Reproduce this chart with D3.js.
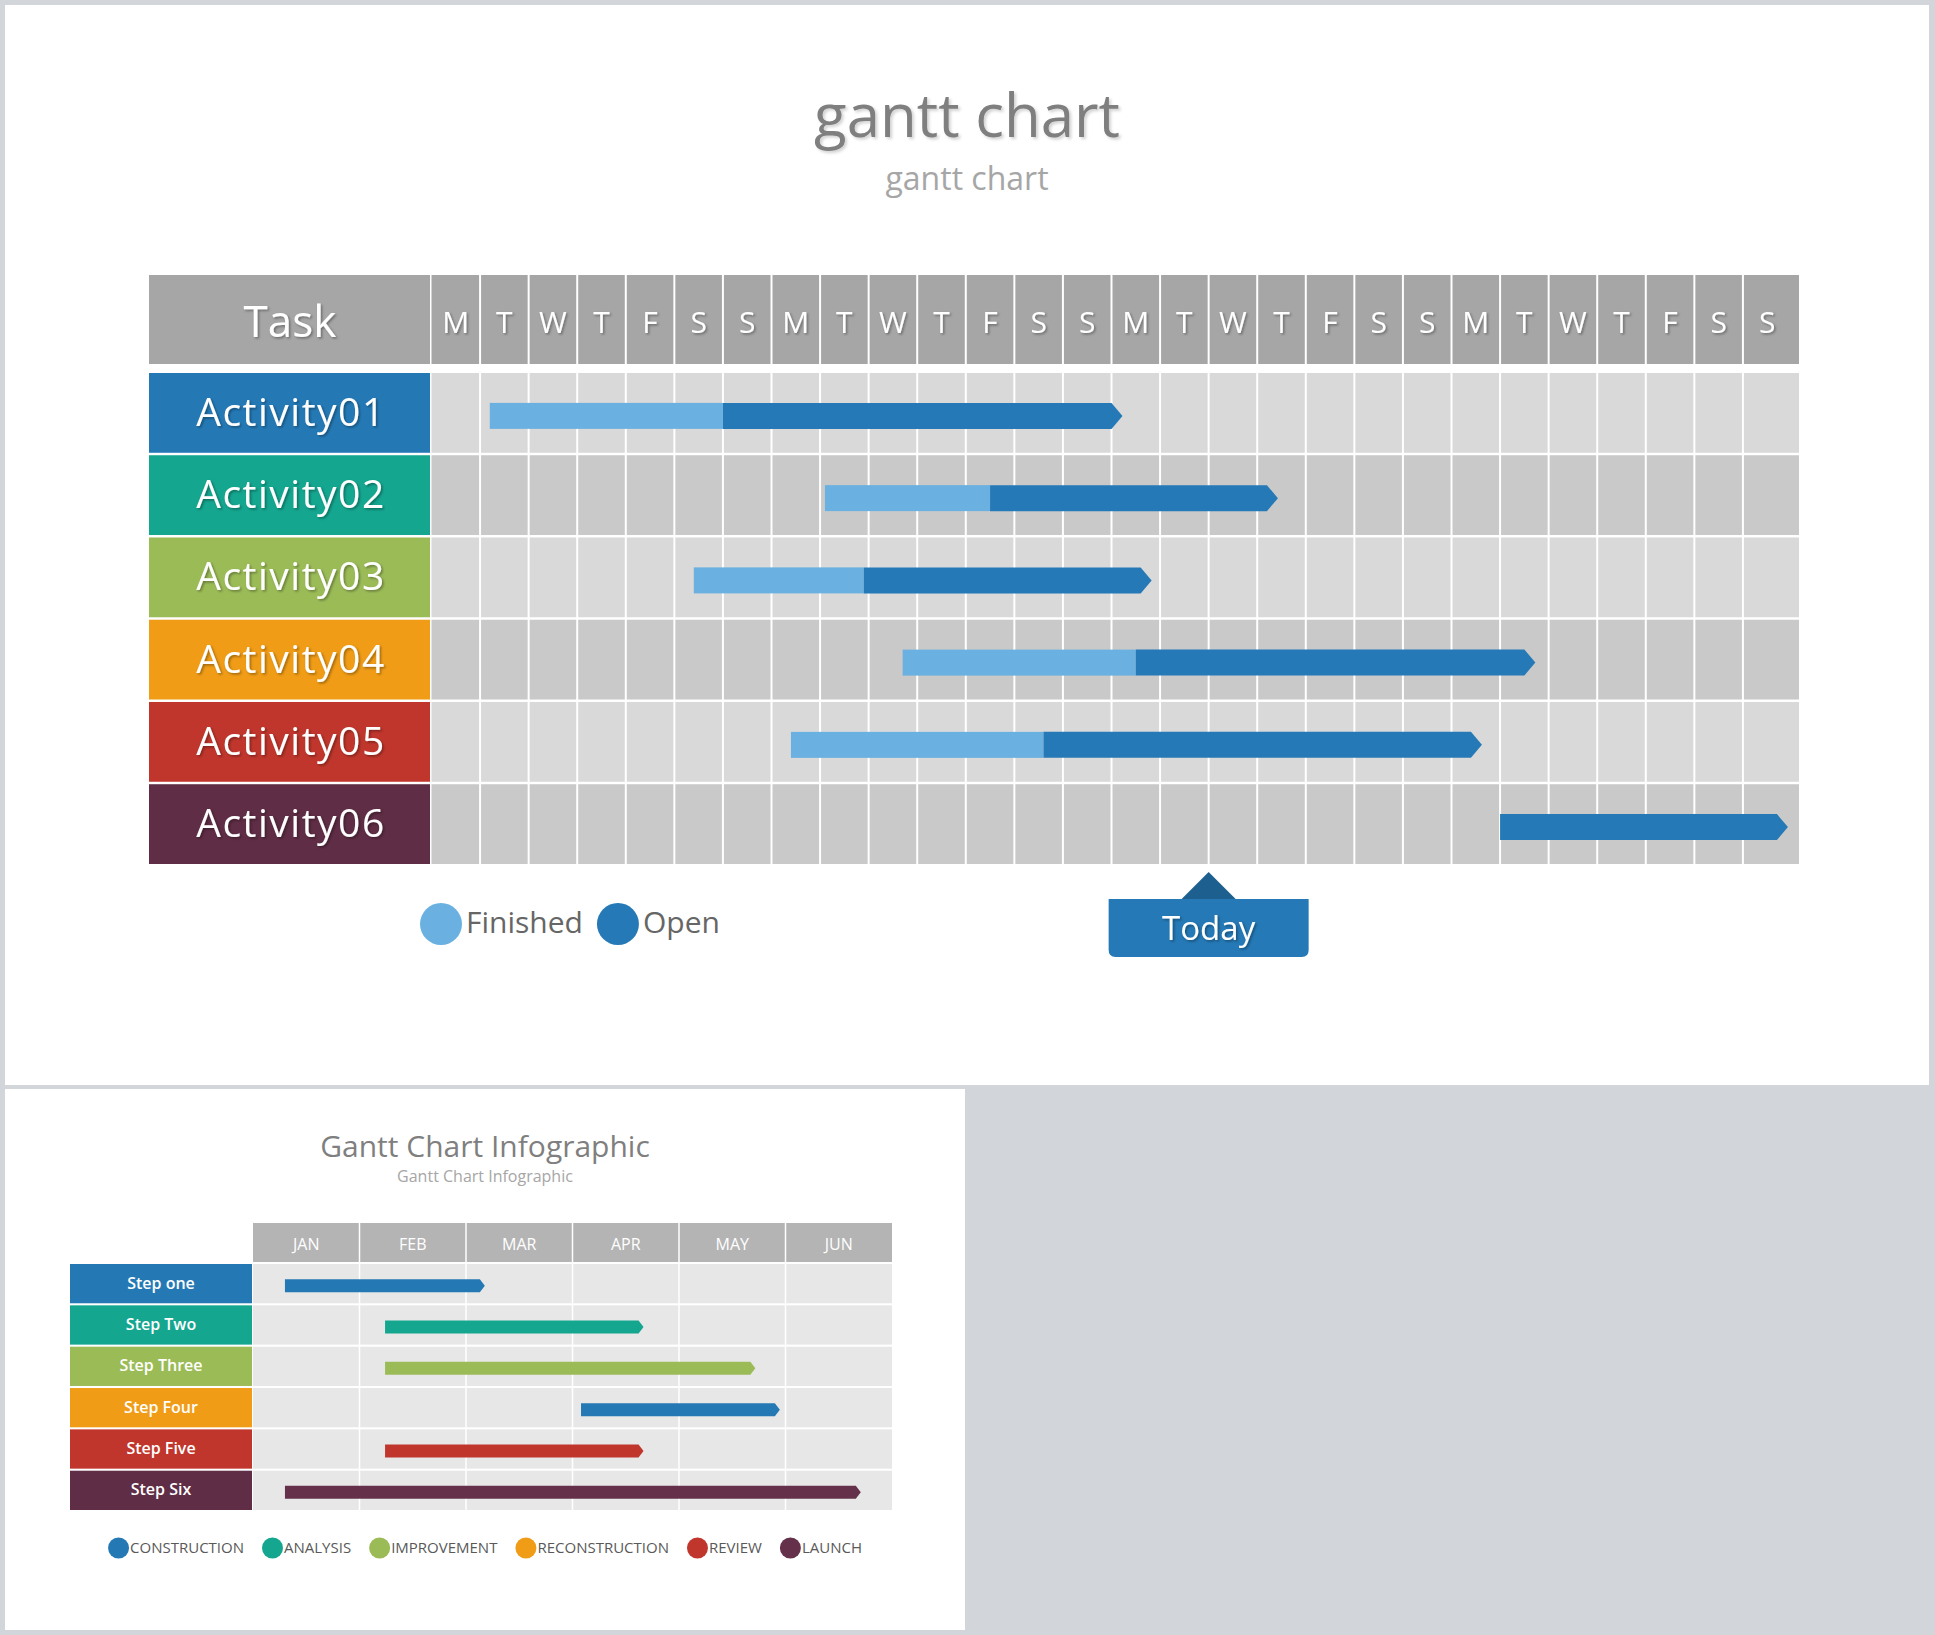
<!DOCTYPE html>
<html><head><meta charset="utf-8">
<script src="https://cdn.jsdelivr.net/npm/d3@7"></script>
<style>html,body{margin:0;padding:0;background:#d2d5da;}svg{display:block}</style>
</head><body>
<svg id="c" width="1935" height="1635"></svg>
<script>
// ---------- data: chart 1 ----------
const days = ["M","T","W","T","F","S","S","M","T","W","T","F","S","S","M","T","W","T","F","S","S","M","T","W","T","F","S","S"];
const activities = ["Activity01","Activity02","Activity03","Activity04","Activity05","Activity06"];
const finishedStart = [1.2, 8.1, 5.4, 9.7, 7.4, 22.0];
const openStart     = [6.0, 11.5, 8.9, 14.5, 12.6, 22.0];
const openEnd       = [14.0, 17.2, 14.6, 22.5, 21.4, 27.7];
const today = 16;
const statusNames = ["Finished", "Open"];

// ---------- data: chart 2 ----------
const months = ["JAN","FEB","MAR","APR","MAY","JUN"];
const steps = ["Step one","Step Two","Step Three","Step Four","Step Five","Step Six"];
const stepStart = [0.30, 1.24, 1.24, 3.08, 1.24, 0.30];
const stepEnd   = [2.13, 3.62, 4.67, 4.90, 3.62, 5.66];
const phases = ["CONSTRUCTION","ANALYSIS","IMPROVEMENT","RECONSTRUCTION","REVIEW","LAUNCH"];
const stepPhase = [0, 1, 2, 0, 4, 5];

// ---------- styles ----------
const labelColors = ["#2479b5","#14a68f","#9bbb57","#f09c16","#c0362c","#5f2d45"];
const phaseColors = ["#2479b5","#14a68f","#9bbb57","#f09c16","#c0362c","#64304a"];
const statusColors = ["#6ab1e1","#2479b6"];
const FONT = "'Open Sans', 'Noto Sans', sans-serif";

const svg = d3.select("#c");
const defs = svg.append("defs");
const f = defs.append("filter").attr("id","sh").attr("x","-10%").attr("y","-20%").attr("width","130%").attr("height","150%");
f.append("feDropShadow").attr("dx",1.5).attr("dy",1.5).attr("stdDeviation",1).attr("flood-color","#000").attr("flood-opacity",0.35);
const f2 = defs.append("filter").attr("id","tsh").attr("x","-10%").attr("y","-20%").attr("width","130%").attr("height","150%");
f2.append("feDropShadow").attr("dx",2).attr("dy",2).attr("stdDeviation",1.5).attr("flood-color","#000").attr("flood-opacity",0.18);

// panels
svg.append("rect").attr("x",5).attr("y",5).attr("width",1924).attr("height",1080).attr("fill","#fff");
svg.append("rect").attr("x",5).attr("y",1089).attr("width",960).attr("height",541).attr("fill","#fff");

// ================= chart 1 =================
const g1 = svg.append("g");
g1.append("text").attr("x",967).attr("y",137).attr("text-anchor","middle")
  .attr("font-family",FONT).attr("font-size",60).attr("fill","#7f7f7f").attr("filter","url(#tsh)").text("gantt chart");
g1.append("text").attr("x",967).attr("y",190).attr("text-anchor","middle")
  .attr("font-family",FONT).attr("font-size",32).attr("fill","#a6a6a6").text("gantt chart");

const gridRight = 1799;
const x1 = d3.scaleLinear().domain([0, days.length]).range([431.5, 1791.5]);
const dayBand = d3.scaleBand().domain(d3.range(days.length)).range([431.5, 1791.5]);
const y1 = d3.scaleBand().domain(activities).range([373, 864]).paddingInner(0.03);
const hTop = 275, hBot = 364;

// header
g1.append("rect").attr("x",149).attr("y",hTop).attr("width",281).attr("height",hBot-hTop).attr("fill","#a6a6a6");
g1.append("rect").attr("x",x1(0)).attr("y",hTop).attr("width",gridRight-x1(0)).attr("height",hBot-hTop).attr("fill","#a6a6a6");
g1.append("text").attr("x",290).attr("y",337).attr("text-anchor","middle").attr("font-family",FONT)
  .attr("font-size",44).attr("fill","#fff").attr("filter","url(#sh)").text("Task");

// rows
activities.forEach((a,i)=>{
  g1.append("rect").attr("x",x1(0)).attr("y",y1(a)).attr("width",gridRight-x1(0)).attr("height",y1.bandwidth())
    .attr("fill", i%2===0 ? "#d9d9d9" : "#c9c9c9");
  g1.append("rect").attr("x",149).attr("y",y1(a)).attr("width",281).attr("height",y1.bandwidth()).attr("fill",labelColors[i]);
  g1.append("text").attr("x",291).attr("y",y1(a)+y1.bandwidth()/2+13).attr("text-anchor","middle")
    .attr("font-family",FONT).attr("font-size",39).attr("letter-spacing",1.5).attr("fill","#fff").attr("filter","url(#sh)").text(a);
});
// vertical white separators
d3.range(1, days.length).forEach(k=>{
  g1.append("line").attr("x1",x1(k)).attr("x2",x1(k)).attr("y1",hTop).attr("y2",hBot).attr("stroke","#fff").attr("stroke-width",2);
  g1.append("line").attr("x1",x1(k)).attr("x2",x1(k)).attr("y1",y1.range()[0]).attr("y2",y1.range()[1]).attr("stroke","#fff").attr("stroke-width",2);
});
// day labels via axis
const dayAxis = d3.axisTop(dayBand).tickSize(0).tickFormat(i=>days[i]);
const ax = g1.append("g").attr("transform",`translate(0,${333})`).call(dayAxis);
ax.select(".domain").remove();
ax.selectAll("text").attr("font-family",FONT).attr("font-size",30).attr("fill","#fff").attr("dy",0).attr("y",0)
  .attr("filter","url(#sh)");

// bars
const barH = 26, tip = 11;
activities.forEach((a,i)=>{
  const cy = y1(a) + y1.bandwidth()/2 + 3;
  if (openStart[i] > finishedStart[i]) {
    g1.append("rect").attr("x",x1(finishedStart[i])).attr("y",cy-barH/2)
      .attr("width",x1(openStart[i])-x1(finishedStart[i])).attr("height",barH).attr("fill",statusColors[0]);
  }
  const xs = x1(openStart[i]), xe = x1(openEnd[i]);
  g1.append("path").attr("d",`M${xs},${cy-barH/2}H${xe}L${xe+tip},${cy}L${xe},${cy+barH/2}H${xs}Z`).attr("fill",statusColors[1]);
});

// today callout
const tx = x1(today);
g1.append("path").attr("d",`M${tx},872L${tx+27},899L${tx-27},899Z`).attr("fill","#1d5f8f");
const bx0 = tx-100, bx1 = tx+100, by0 = 899, by1 = 957, r = 7;
g1.append("path").attr("d",`M${bx0},${by0}H${bx1}V${by1-r}Q${bx1},${by1} ${bx1-r},${by1}H${bx0+r}Q${bx0},${by1} ${bx0},${by1-r}Z`)
  .attr("fill","#2479b6");
g1.append("text").attr("x",tx).attr("y",940).attr("text-anchor","middle").attr("font-family",FONT)
  .attr("font-size",33).attr("fill","#fff").attr("filter","url(#sh)").text("Today");

// status legend
let lx = 420;
statusNames.forEach((s,i)=>{
  g1.append("circle").attr("cx",lx+21).attr("cy",924).attr("r",21).attr("fill",statusColors[i]);
  const t = g1.append("text").attr("x",lx+46).attr("y",933).attr("font-family",FONT).attr("font-size",30)
    .attr("fill","#666").text(s);
  lx = lx + 46 + t.node().getComputedTextLength() + 14;
});

// ================= chart 2 =================
const g2 = svg.append("g");
g2.append("text").attr("x",485).attr("y",1157).attr("text-anchor","middle").attr("font-family",FONT)
  .attr("font-size",30).attr("fill","#7f7f7f").text("Gantt Chart Infographic");
g2.append("text").attr("x",485).attr("y",1182).attr("text-anchor","middle").attr("font-family",FONT)
  .attr("font-size",16).attr("fill","#a6a6a6").text("Gantt Chart Infographic");

const x2 = d3.scaleLinear().domain([0, months.length]).range([253, 892]);
const monthBand = d3.scaleBand().domain(months).range([253, 892]);
const y2 = d3.scaleBand().domain(steps).range([1264, 1510]).paddingInner(0.05);

g2.append("rect").attr("x",x2(0)).attr("y",1223).attr("width",x2(6)-x2(0)).attr("height",39).attr("fill","#b4b4b4");
steps.forEach((s,i)=>{
  g2.append("rect").attr("x",x2(0)).attr("y",y2(s)).attr("width",x2(6)-x2(0)).attr("height",y2.bandwidth()).attr("fill","#e7e7e7");
  g2.append("rect").attr("x",70).attr("y",y2(s)).attr("width",182).attr("height",y2.bandwidth()).attr("fill",labelColors[i]);
  g2.append("text").attr("x",161).attr("y",y2(s)+y2.bandwidth()/2+5).attr("text-anchor","middle").attr("font-family",FONT)
    .attr("font-size",16).attr("font-weight",600).attr("fill","#fff").text(s);
});
d3.range(1, months.length).forEach(k=>{
  g2.append("line").attr("x1",x2(k)).attr("x2",x2(k)).attr("y1",1223).attr("y2",1262).attr("stroke","#fff").attr("stroke-width",1.5);
  g2.append("line").attr("x1",x2(k)).attr("x2",x2(k)).attr("y1",y2.range()[0]).attr("y2",y2.range()[1]).attr("stroke","#fff").attr("stroke-width",1.5);
});
const mAxis = d3.axisTop(monthBand).tickSize(0);
const mx = g2.append("g").attr("transform","translate(0,1250)").call(mAxis);
mx.select(".domain").remove();
mx.selectAll("text").attr("font-family",FONT).attr("font-size",16).attr("fill","#fff").attr("dy",0).attr("y",0);

const bh2 = 13, tip2 = 5;
steps.forEach((s,i)=>{
  const cy = y2(s) + y2.bandwidth()/2 + 2;
  const xs = x2(stepStart[i]), xe = x2(stepEnd[i]);
  g2.append("path").attr("d",`M${xs},${cy-bh2/2}H${xe}L${xe+tip2},${cy}L${xe},${cy+bh2/2}H${xs}Z`)
    .attr("fill",phaseColors[stepPhase[i]]);
});

// phase legend (centred)
const lg = g2.append("g");
let px = 0;
phases.forEach((p,i)=>{
  lg.append("circle").attr("cx",px+10.5).attr("cy",1548).attr("r",10.5).attr("fill",phaseColors[i]);
  const t = lg.append("text").attr("x",px+22).attr("y",1553).attr("font-family",FONT).attr("font-size",15)
    .attr("fill","#595959").text(p);
  px = px + 22 + t.node().getComputedTextLength() + 18;
});
const lw = px - 18;
lg.attr("transform",`translate(${485 - lw/2},0)`);
</script>
</body></html>
